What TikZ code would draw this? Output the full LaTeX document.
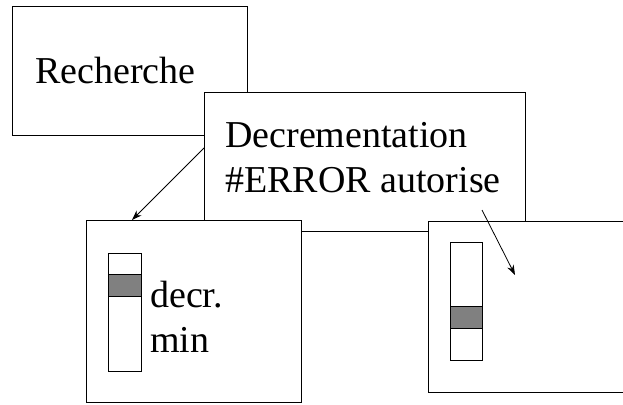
\documentclass[tikz,border=0pt]{standalone}
\usepackage{fontspec}
\setmainfont{Liberation Serif}
\usetikzlibrary{arrows.meta}
\begin{document}
\begin{tikzpicture}[x=1pt,y=-1pt,
  box/.style={draw=black,fill=white,line width=1.2pt,rectangle,inner sep=0pt,anchor=north west},
  band/.style={draw=black,fill=black!50,line width=1.2pt,rectangle,inner sep=0pt,anchor=north west},
  lbl/.style={inner sep=0pt,anchor=base west,font=\fontsize{38}{45}\selectfont},
  conn/.style={line width=0.8pt,-{Stealth[length=10pt,width=7pt]}}]
\useasboundingbox (0,0) rectangle (623,404);
\clip (0,0) rectangle (623,404);
% boxes
\node[box,minimum width=235pt,minimum height=129pt] (rech) at (12,6) {};
\node[box,minimum width=321pt,minimum height=139pt] (dec) at (204,92) {};
\node[box,minimum width=215pt,minimum height=182pt] (lbox) at (86,220) {};
\node[box,minimum width=220pt,minimum height=171pt] (rbox) at (428,221) {};
% sliders
\node[box,minimum width=33pt,minimum height=118pt] (lsl) at (108,253) {};
\node[band,minimum width=33pt,minimum height=22pt] (lband) at (108,274) {};
\node[box,minimum width=32pt,minimum height=118pt] (rsl) at (450,242) {};
\node[band,minimum width=32pt,minimum height=22pt] (rband) at (450,306) {};
% texts
\node[lbl] (trech) at (35,83) {Recherche};
\node[lbl] (tdec1) at (225,147) {Decrementation};
\node[lbl] (tdec2) at (225,192) {\#ERROR autorise};
\node[lbl] (tdecr) at (150,307) {decr.};
\node[lbl] (tmin) at (150,352) {min};
% connectors
\coordinate (a1s) at (204,148);
\coordinate (a1e) at (132,220);
\coordinate (a2s) at (482,210);
\coordinate (a2e) at (515,275);
\draw[conn] (a1s) -- (a1e);
\draw[conn] (a2s) -- (a2e);
\end{tikzpicture}
\end{document}
